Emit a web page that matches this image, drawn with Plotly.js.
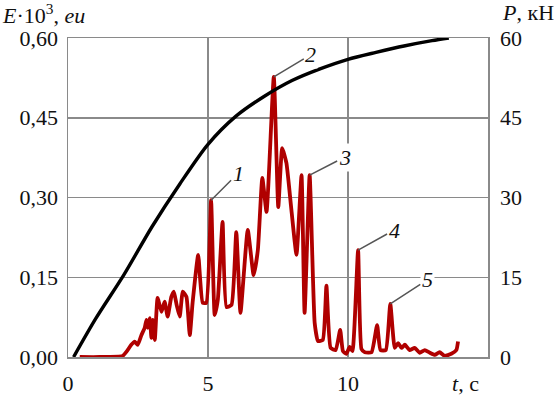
<!DOCTYPE html>
<html>
<head>
<meta charset="utf-8">
<script src="https://cdn.plot.ly/plotly-3.0.1.min.js"></script>
<style>
html,body{margin:0;padding:0;background:#fff;}
#chart{width:554px;height:396px;}
</style>
</head>
<body>
<div id="chart"></div>
<script>
// Red signal E·10^3 (left axis)
const tRed = [0.42,1.13,1.95,2.09,2.26,2.38,2.49,2.62,2.74,2.80,2.85,2.92,2.98,3.03,3.10,3.20,3.34,3.45,3.56,3.69,3.78,3.88,3.99,4.10,4.23,4.35,4.45,4.65,4.81,4.94,5.11,5.24,5.35,5.52,5.66,5.84,6.01,6.16,6.42,6.63,6.78,6.94,7.09,7.35,7.51,7.65,7.80,7.98,8.16,8.34,8.45,8.63,8.81,8.93,9.10,9.23,9.38,9.56,9.72,9.82,9.94,10.06,10.16,10.36,10.48,10.60,10.84,11.04,11.16,11.35,11.51,11.67,11.79,11.91,12.03,12.20,12.38,12.56,12.74,12.92,13.10,13.27,13.45,13.69,13.87,13.93];
const eRed = [0.000,0.000,0.002,0.010,0.023,0.029,0.023,0.041,0.055,0.070,0.055,0.073,0.036,0.070,0.032,0.111,0.085,0.104,0.076,0.113,0.123,0.098,0.076,0.123,0.113,0.041,0.102,0.192,0.102,0.102,0.295,0.079,0.107,0.254,0.094,0.098,0.235,0.083,0.239,0.154,0.201,0.337,0.273,0.527,0.282,0.393,0.365,0.276,0.192,0.342,0.083,0.342,0.064,0.030,0.032,0.134,0.017,0.013,0.051,0.011,0.006,0.019,0.011,0.201,0.015,0.009,0.009,0.060,0.013,0.013,0.100,0.017,0.026,0.017,0.023,0.013,0.017,0.008,0.013,0.008,0.004,0.009,0.002,0.006,0.013,0.029];
// Black load curve P, kN (right axis)
const tLoad = [0.2,1,2,3,4,5,6,7,8,9,10,11,12,13,13.6];
const pLoad = [0,7.3,15.5,24.5,32.6,40,45.3,49,52,54.2,56,57.3,58.5,59.5,60];
// Peak labels
const peakLabels = ['1','2','3','4','5'];
const peakT = [5.11,7.35,8.63,10.36,11.51];
const peakE = [0.295,0.527,0.342,0.201,0.100];
const peakAx = [27,37,35,36,37];
const peakAy = [-27,-22,-18,-20,-24];

const xTicks = [0,5,10];
const yTicks = [0,0.15,0.30,0.45,0.60];
const y2Ticks = [0,15,30,45,60];

const serif = 'Liberation Serif';
const gridC = '#8a8a8a';
const txtC = '#111';

const traces = [
  {x: tLoad, y: pLoad, yaxis: 'y2', mode: 'lines', line: {color: '#000', width: 3.4, shape: 'spline', smoothing: 0.8}, hoverinfo: 'skip'},
  {x: tRed, y: eRed, mode: 'lines', line: {color: '#b00000', width: 3.8, shape: 'spline', smoothing: 0.45}, hoverinfo: 'skip'}
];

const annotations = peakLabels.map((s, i) => ({
  x: peakT[i], y: peakE[i], xref: 'x', yref: 'y',
  text: '<i>' + s + '</i>', showarrow: true, arrowhead: 0, arrowwidth: 1.5, arrowcolor: '#555',
  ax: peakAx[i], ay: peakAy[i], bgcolor: '#fff', borderpad: 1,
  font: {family: serif, size: 22, color: txtC}
}));
annotations.push({xref: 'paper', yref: 'paper', x: -0.162, y: 1.075, xanchor: 'left', yanchor: 'middle', showarrow: false,
  text: '<i>E</i>·10<sup>3</sup>, <i>eu</i>', font: {family: serif, size: 22, color: txtC}});
annotations.push({xref: 'paper', yref: 'paper', x: 1.028, y: 1.08, xanchor: 'left', yanchor: 'middle', showarrow: false,
  text: '<i>P</i>, кН', font: {family: serif, size: 22, color: txtC}});
annotations.push({xref: 'x', yref: 'paper', x: 14.2, y: -0.082, xanchor: 'center', yanchor: 'middle', showarrow: false,
  text: '<i>t</i>, с', font: {family: serif, size: 22, color: txtC}});

const layout = {
  width: 554, height: 396,
  margin: {l: 68, r: 66, t: 38, b: 39},
  paper_bgcolor: '#fff', plot_bgcolor: '#fff',
  showlegend: false,
  separators: ', ',
  font: {family: serif, size: 22, color: txtC},
  xaxis: {range: [0, 15], tickvals: xTicks, ticktext: xTicks.map(String), showgrid: true, gridcolor: gridC, gridwidth: 1.5,
    zeroline: false, showline: true, linecolor: gridC, linewidth: 1.5, mirror: true, ticks: '', ticklabelstandoff: 6,
    tickfont: {family: serif, size: 22, color: txtC}},
  yaxis: {range: [0, 0.60], tickvals: yTicks, tickformat: '.2f', showgrid: true, gridcolor: gridC, gridwidth: 1.5,
    zeroline: false, showline: true, linecolor: gridC, linewidth: 1.5, mirror: true, ticks: '', ticklabelstandoff: 4,
    tickfont: {family: serif, size: 22, color: txtC}},
  yaxis2: {range: [0, 60], tickvals: y2Ticks, overlaying: 'y', side: 'right', showgrid: false, zeroline: false,
    showline: false, ticks: '', ticklabelstandoff: 11, tickfont: {family: serif, size: 22, color: txtC}},
  annotations: annotations
};

Plotly.newPlot('chart', traces, layout, {displayModeBar: false, staticPlot: true});
</script>
</body>
</html>
